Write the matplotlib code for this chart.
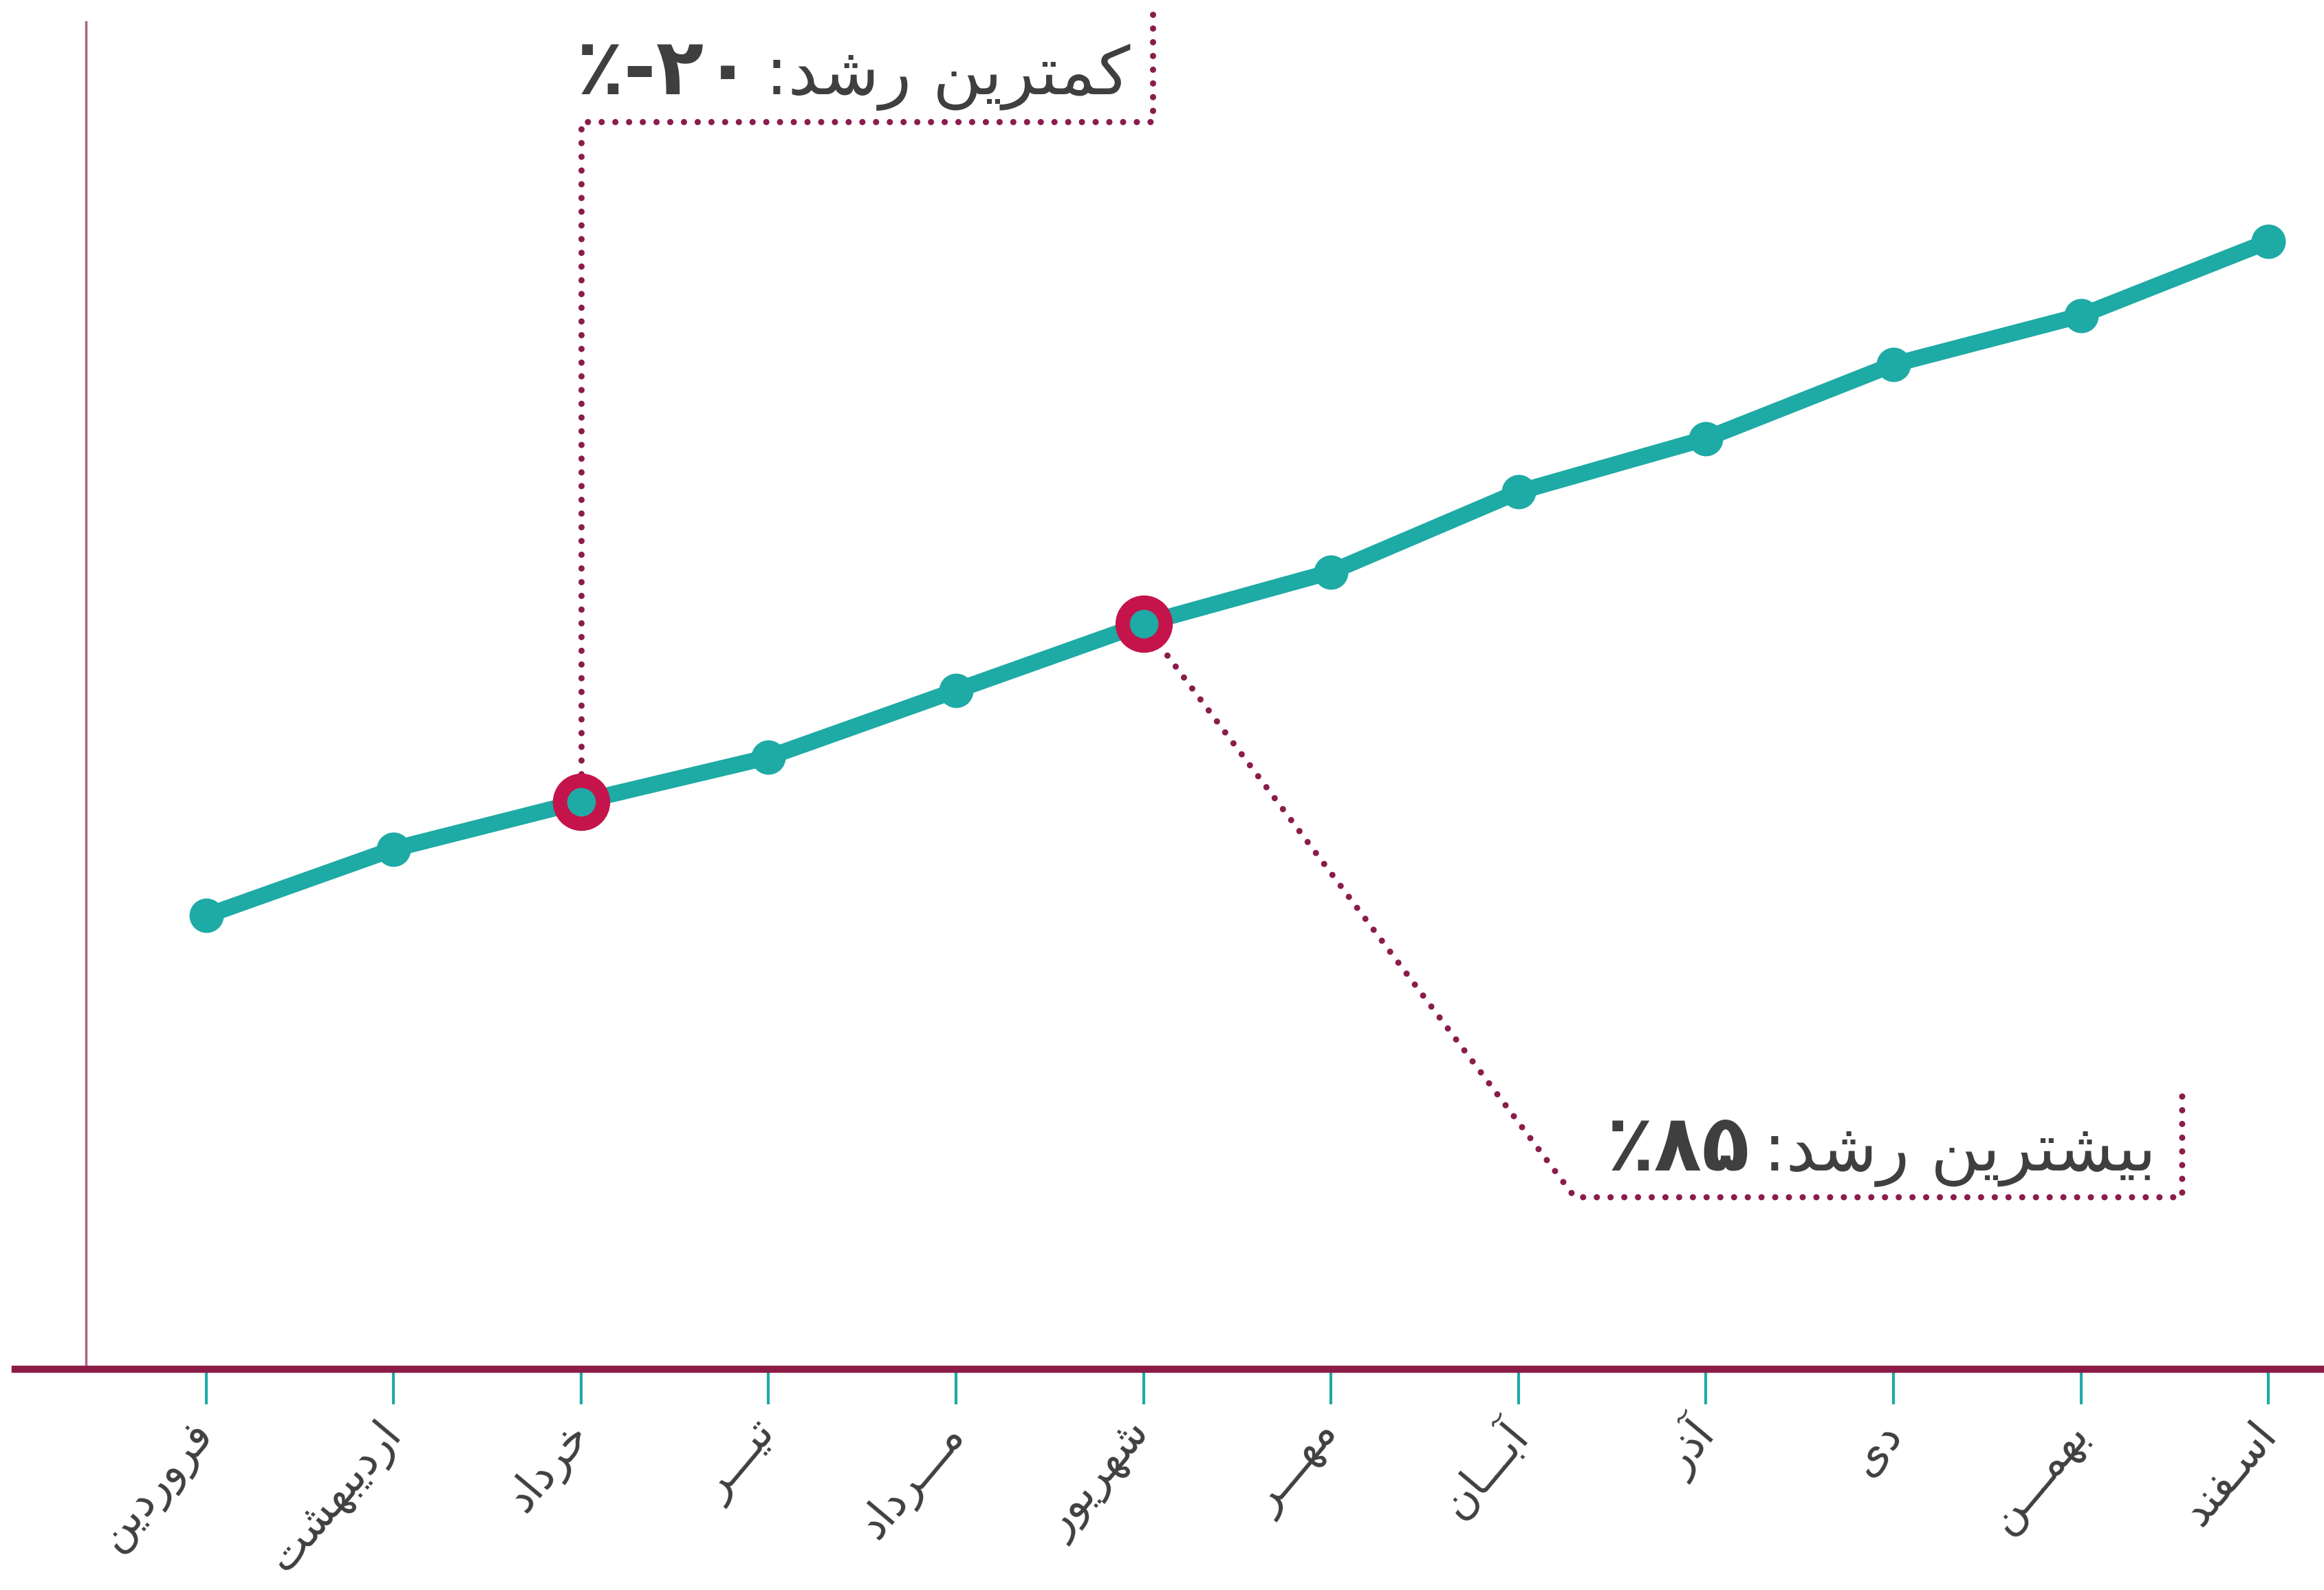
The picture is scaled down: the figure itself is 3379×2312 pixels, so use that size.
import matplotlib
matplotlib.use('Agg')
import matplotlib.pyplot as plt
from matplotlib.offsetbox import TextArea, HPacker, AnnotationBbox

# داده‌ها
months = ['فروردین', 'اردیبهشت', 'خرداد', 'تیـــر', 'مـــرداد', 'شهریور',
          'مهـــر', 'آبـــان', 'آذر', 'دی', 'بهمـــن', 'اسـفند']
values = [30.6, 35.1, 38.3, 41.3, 45.8, 50.3, 53.8, 59.2, 62.8, 67.8, 71.1, 76.1]
min_idx, max_idx = 2, 5
min_label, min_value = 'کمترین رشد:', '٪-۲۰'
max_label, max_value = 'بیشترین رشد:', '٪۸۵'

TEAL = '#1eaaa5'
RING = '#c4144b'
AXIS = '#8c1c46'
DOTS = '#8a1d4c'
TXT = '#3f3f3f'

# شکل‌دهی ساده حروف فارسی (isolated, final, initial, medial)
FORMS = {
    'ا': ('\uFE8D', '\uFE8E', None, None),
    'آ': ('\uFE81', '\uFE82', None, None),
    'ب': ('\uFE8F', '\uFE90', '\uFE91', '\uFE92'),
    'ت': ('\uFE95', '\uFE96', '\uFE97', '\uFE98'),
    'خ': ('\uFEA5', '\uFEA6', '\uFEA7', '\uFEA8'),
    'د': ('\uFEA9', '\uFEAA', None, None),
    'ذ': ('\uFEAB', '\uFEAC', None, None),
    'ر': ('\uFEAD', '\uFEAE', None, None),
    'س': ('\uFEB1', '\uFEB2', '\uFEB3', '\uFEB4'),
    'ش': ('\uFEB5', '\uFEB6', '\uFEB7', '\uFEB8'),
    'ف': ('\uFED1', '\uFED2', '\uFED3', '\uFED4'),
    'م': ('\uFEE1', '\uFEE2', '\uFEE3', '\uFEE4'),
    'ن': ('\uFEE5', '\uFEE6', '\uFEE7', '\uFEE8'),
    'ه': ('\uFEE9', '\uFEEA', '\uFEEB', '\uFEEC'),
    'و': ('\uFEED', '\uFEEE', None, None),
    'ی': ('\uFBFC', '\uFBFD', '\uFBFE', '\uFBFF'),
    'ک': ('\uFB8E', '\uFB8F', '\uFB90', '\uFB91'),
    'ـ': ('ـ', 'ـ', 'ـ', 'ـ'),
}


def shape(text):
    out = []
    for i, ch in enumerate(text):
        f = FORMS.get(ch)
        if f is None:
            out.append(ch)
            continue
        prev = text[i - 1] if i > 0 else None
        nxt = text[i + 1] if i + 1 < len(text) else None
        join_prev = prev in FORMS and FORMS[prev][2] is not None
        join_next = nxt in FORMS and f[2] is not None
        if join_prev and join_next:
            out.append(f[3])
        elif join_prev:
            out.append(f[1])
        elif join_next:
            out.append(f[2])
        else:
            out.append(f[0])
    return ''.join(reversed(out))


plt.rcParams['font.family'] = ['DejaVu Sans']

fig = plt.figure(figsize=(33.8, 23.12), dpi=100)
ax = fig.add_axes([0.0064, 0.1389, 0.9936, 0.8472])
x = list(range(len(months)))

ax.set_xlim(-1.02, 11.30)
ax.set_ylim(0, 90.9)

for s in ['top', 'right']:
    ax.spines[s].set_visible(False)
ax.spines['left'].set_position(('data', -0.64))
ax.spines['left'].set_color('#b0607f')
ax.spines['left'].set_linewidth(2.5)
ax.spines['bottom'].set_color(AXIS)
ax.spines['bottom'].set_linewidth(7.5)

ax.set_yticks([])
ax.set_xticks(x)
ax.set_xticklabels([shape(m) for m in months], rotation=50, ha='right',
                   va='center', rotation_mode='anchor', fontsize=46, color=TXT)
ax.tick_params(axis='x', direction='out', length=37, width=3, color=TEAL, pad=24)

# خط اصلی
ax.plot(x, values, color=TEAL, lw=17, marker='o', ms=35,
        solid_capstyle='round', zorder=3)
ax.plot([x[min_idx], x[max_idx]], [values[min_idx], values[max_idx]], 'o',
        ms=45, mfc=TEAL, mec=RING, mew=15, zorder=4)

dot_style = dict(color=DOTS, lw=6.5, linestyle=(0, (0.01, 2.2)),
                 dash_capstyle='round', clip_on=False, zorder=2)

# کمترین رشد
ax.plot([5.05, 5.05, x[min_idx], x[min_idx]],
        [91.4, 84.2, 84.2, values[min_idx]], **dot_style)
# بیشترین رشد
ax.plot([10.54, 10.54, 7.30, x[max_idx]],
        [18.4, 11.6, 11.6, values[max_idx]], **dot_style)


def label_box(label, value, xy):
    num = TextArea(value, textprops=dict(fontsize=82, fontweight='bold', color=TXT))
    txt = TextArea(shape(label), textprops=dict(fontsize=70, color=TXT))
    box = HPacker(children=[num, txt], align='baseline', pad=0, sep=14)
    ab = AnnotationBbox(box, xy, xycoords='data', box_alignment=(1, 0),
                        frameon=False, pad=0, annotation_clip=False)
    ax.add_artist(ab)


label_box(min_label, min_value, (4.93, 84.9))
label_box(max_label, max_value, (10.40, 12.3))

fig.savefig('out.png', dpi=100, facecolor='white')
